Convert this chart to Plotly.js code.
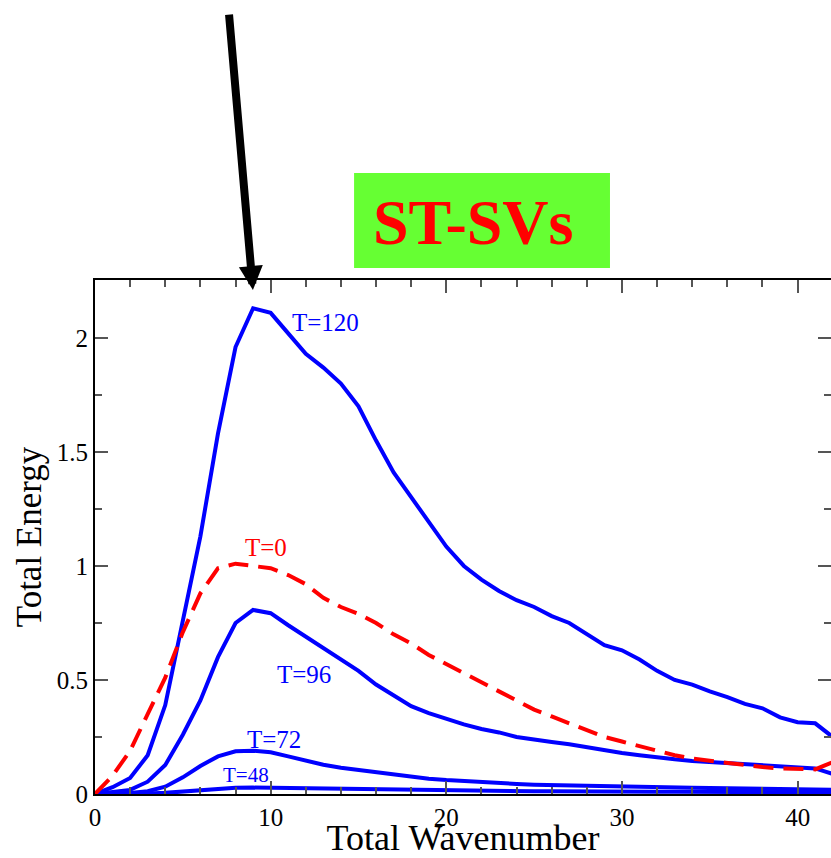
<!DOCTYPE html>
<html>
<head>
<meta charset="utf-8">
<script src="https://cdn.plot.ly/plotly-3.0.1.min.js"></script>
<style>
html,body{margin:0;padding:0;background:#fff;overflow:hidden;}
#chart{width:831px;height:858px;}
</style>
</head>
<body>
<div id="chart"></div>
<script>
// Total wavenumber
var wavenumber = [0,1,2,3,4,5,6,7,8,9,10,11,12,13,14,15,16,17,18,19,20,21,22,23,24,25,26,27,28,29,30,31,32,33,34,35,36,37,38,39,40,41,42];
// Total energy, initial time (T=0, red dashed)
var energyT0 = [0,0.08,0.19,0.35,0.51,0.71,0.88,0.99,1.01,1.00,0.99,0.96,0.92,0.86,0.82,0.79,0.75,0.70,0.66,0.61,0.57,0.53,0.49,0.45,0.41,0.37,0.34,0.31,0.28,0.25,0.23,0.21,0.19,0.17,0.155,0.145,0.135,0.125,0.118,0.112,0.108,0.108,0.14];
// T=48
var energyT48 = [0,0,0.001,0.002,0.005,0.010,0.018,0.024,0.027,0.028,0.027,0.025,0.023,0.021,0.019,0.018,0.017,0.016,0.015,0.015,0.014,0.014,0.013,0.013,0.012,0.012,0.012,0.011,0.011,0.011,0.010,0.010,0.010,0.010,0.009,0.009,0.009,0.009,0.008,0.008,0.008,0.008,0.008];
// T=72
var energyT72 = [0,0.001,0.004,0.012,0.032,0.073,0.123,0.165,0.187,0.190,0.183,0.165,0.145,0.128,0.115,0.105,0.094,0.084,0.075,0.067,0.061,0.056,0.051,0.047,0.044,0.041,0.039,0.037,0.035,0.033,0.031,0.030,0.029,0.028,0.027,0.026,0.025,0.024,0.023,0.022,0.021,0.020,0.019];
// T=96
var energyT96 = [0,0.008,0.018,0.054,0.127,0.26,0.41,0.60,0.75,0.807,0.793,0.74,0.69,0.64,0.59,0.54,0.48,0.43,0.385,0.355,0.33,0.305,0.285,0.27,0.25,0.237,0.228,0.218,0.205,0.19,0.18,0.17,0.16,0.152,0.145,0.14,0.137,0.133,0.128,0.12,0.115,0.112,0.088];
// T=120
var energyT120 = [0,0.03,0.07,0.17,0.39,0.75,1.13,1.58,1.96,2.13,2.11,2.02,1.93,1.87,1.80,1.70,1.55,1.41,1.30,1.19,1.085,1.00,0.94,0.89,0.85,0.82,0.78,0.75,0.70,0.653,0.63,0.59,0.54,0.50,0.48,0.45,0.425,0.395,0.376,0.336,0.315,0.31,0.25];

var curveLabels = ['T=0','T=48','T=72','T=96','T=120'];
var labelX = [9.71, 8.57, 10.17, 11.87, 13.13];
var labelY = [1.083, 0.083, 0.237, 0.522, 2.066];
var panelTitle = 'ST-SVs';
var xTitle = 'Total Wavenumber';
var yTitle = 'Total Energy';

var BLUE = '#0000ff', RED = '#ff0000';
var FONT = '"Liberation Serif", "Times New Roman", serif';

var blueLine = {color: BLUE, width: 4};
var traces = [
  {x: wavenumber, y: energyT48, mode: 'lines', line: blueLine, name: curveLabels[1]},
  {x: wavenumber, y: energyT72, mode: 'lines', line: blueLine, name: curveLabels[2]},
  {x: wavenumber, y: energyT96, mode: 'lines', line: blueLine, name: curveLabels[3]},
  {x: wavenumber, y: energyT120, mode: 'lines', line: blueLine, name: curveLabels[4]},
  {x: wavenumber, y: energyT0, mode: 'lines', line: {color: RED, width: 4, dash: '20px,10px'}, name: curveLabels[0]}
];

var labelColors = [RED, BLUE, BLUE, BLUE, BLUE];
var labelSizes = [25, 21, 25, 25, 25];
var annotations = curveLabels.map(function(t, i){
  return {x: labelX[i], y: labelY[i], xref: 'x', yref: 'y', text: t, showarrow: false,
          xanchor: 'center', yanchor: 'middle',
          font: {family: FONT, size: labelSizes[i], color: labelColors[i]}};
});
// arrow pointing at the peak
annotations.push({x: 8.99, y: 2.21, xref: 'x', yref: 'y', text: '', showarrow: true,
  ax: -24, ay: -277, axref: 'pixel', ayref: 'pixel', arrowhead: 2, arrowsize: 0.6, arrowwidth: 8,
  arrowcolor: '#000000', standoff: 0});
// panel label
annotations.push({x: 0.5136, y: 1.111, xref: 'paper', yref: 'paper', text: '<b>' + panelTitle + '</b>',
  xanchor: 'center', yanchor: 'middle',
  showarrow: false, font: {family: FONT, size: 64, color: RED}});

var axisCommon = {
  showline: true, linecolor: '#000', linewidth: 2, mirror: 'allticks',
  ticks: 'inside', ticklen: 13, tickwidth: 2, tickcolor: '#555',
  showgrid: false, zeroline: false,
  tickfont: {family: FONT, size: 25, color: '#000'}
};

var layout = {
  width: 831, height: 858,
  margin: {l: 95, r: 0, t: 280, b: 64},
  paper_bgcolor: '#fff', plot_bgcolor: '#fff',
  showlegend: false,
  xaxis: Object.assign({}, axisCommon, {
    range: [0, 41.9], dtick: 10, tick0: 0,
    minor: {dtick: 2, ticks: 'inside', ticklen: 7, tickwidth: 2, tickcolor: '#555'},
    title: {text: xTitle, font: {family: FONT, size: 36, color: '#000'}, standoff: 0}
  }),
  yaxis: Object.assign({}, axisCommon, {
    range: [0, 2.254], dtick: 0.5, tick0: 0,
    minor: {dtick: 0.25, ticks: 'inside', ticklen: 7, tickwidth: 2, tickcolor: '#555'},
    ticklabelstandoff: 0,
    title: {text: yTitle, font: {family: FONT, size: 35, color: '#000'}, standoff: 5}
  }),
  shapes: [{type: 'rect', xref: 'paper', yref: 'paper', x0: 0.352, x1: 0.6997, y0: 1.0233, y1: 1.208,
            fillcolor: '#66ff33', line: {width: 0}, layer: 'below'}],
  annotations: annotations
};

Plotly.newPlot('chart', traces, layout, {displayModeBar: false, staticPlot: true});
</script>
</body>
</html>
